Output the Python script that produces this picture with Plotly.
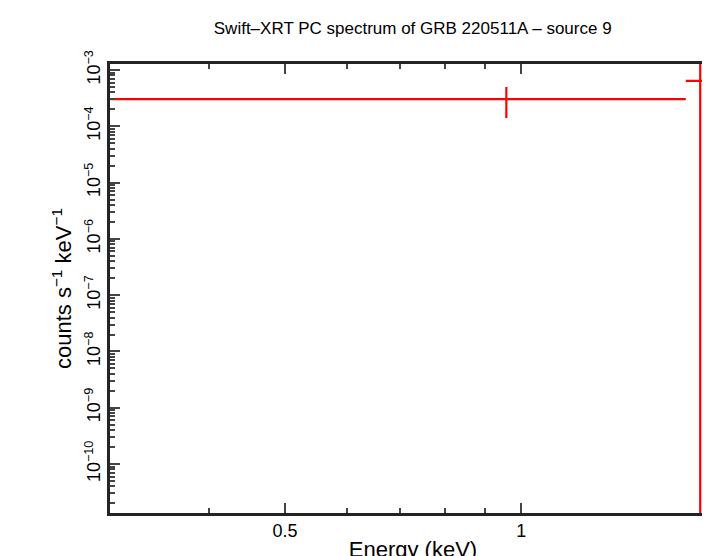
import plotly.graph_objects as go

energy = [0.957, 1.69]
e_lo = [0.30, 1.62]
e_hi = [1.62, 1.80]
rate = [3.05e-4, 6.4e-4]
rate_lo = [1.4e-4, 1e-12]
rate_hi = [5.0e-4, 1e-1]

red = '#ff0000'
fig = go.Figure()
fig.add_trace(go.Scatter(
    x=energy, y=rate, mode='markers',
    marker=dict(size=1, color=red),
    error_x=dict(type='data', symmetric=False,
                 array=[h - e for h, e in zip(e_hi, energy)],
                 arrayminus=[e - l for l, e in zip(e_lo, energy)],
                 color=red, thickness=2.2, width=0),
    error_y=dict(type='data', symmetric=False,
                 array=[h - r for h, r in zip(rate_hi, rate)],
                 arrayminus=[r - l for l, r in zip(rate_lo, rate)],
                 color=red, thickness=2.2, width=0),
))

ydec = list(range(-10, -2))
minor_y = [m * 10.0 ** d for d in range(-11, -2) for m in range(2, 10)]

fig.update_layout(
    width=710, height=556,
    template='simple_white',
    font=dict(family='Liberation Sans', size=18, color='black'),
    title=dict(text='Swift–XRT PC spectrum of GRB 220511A – source 9',
               x=0.57, y=0.975, xanchor='center', font=dict(size=17)),
    margin=dict(l=102, r=2, t=56, b=51, autoexpand=False),
    showlegend=False,
)
fig.update_xaxes(
    type='log', range=[-0.524, 0.248], automargin=False,
    title=dict(text='Energy (keV)', standoff=2),
    tickvals=[0.5, 1], ticktext=['0.5', '1'], tickfont=dict(size=18),
    ticks='inside', ticklen=10, tickwidth=2,
    minor=dict(tickvals=[0.3, 0.4, 0.6, 0.7, 0.8, 0.9, 2], ticks='inside', ticklen=5, tickwidth=2),
    showline=True, linewidth=2.5, mirror='ticks', showgrid=False,
)
fig.update_yaxes(
    type='log', range=[-10.87, -2.893], automargin=False,
    title=dict(text='counts s<sup>−1</sup> keV<sup>−1</sup>', standoff=4),
    tickvals=[10.0 ** d for d in ydec],
    ticktext=['10<sup>−%d</sup>' % -d for d in ydec], tickfont=dict(size=18),
    tickangle=-90,
    ticks='inside', ticklen=10, tickwidth=2,
    minor=dict(tickvals=minor_y, ticks='inside', ticklen=5, tickwidth=2),
    showline=True, linewidth=2.5, mirror='ticks', showgrid=False,
)

fig.write_html('out.html')
